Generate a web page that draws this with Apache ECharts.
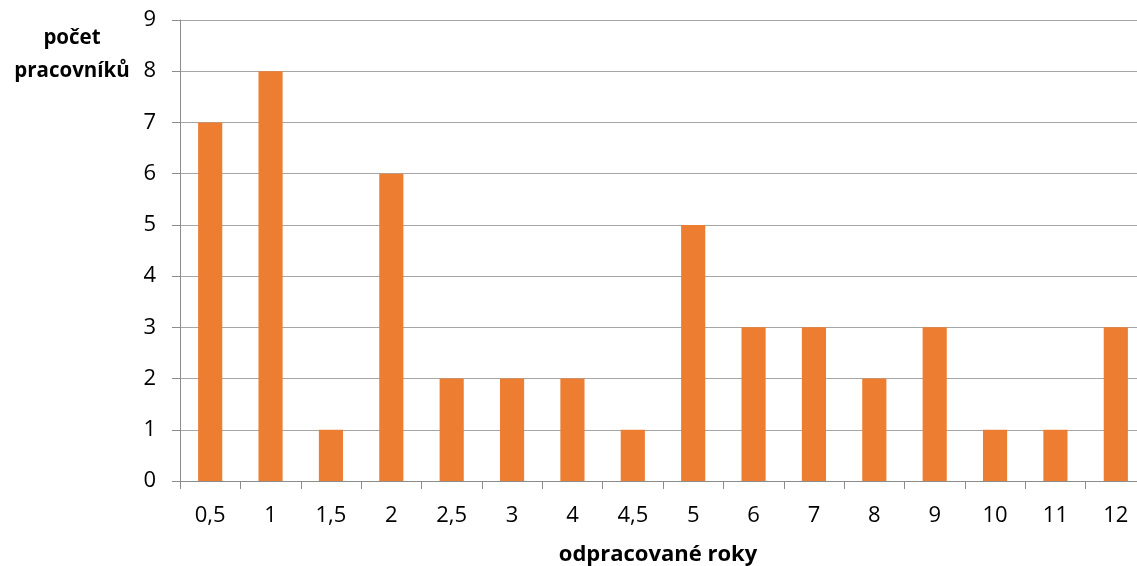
<!DOCTYPE html>
<html>
<head>
<meta charset="utf-8">
<script src="https://cdn.jsdelivr.net/npm/echarts@6/dist/echarts.min.js"></script>
<style>
  html, body { margin: 0; padding: 0; background: #fff; }
  #chart { width: 1137px; height: 566px; }
</style>
</head>
<body>
<div id="chart"></div>
<script>
// Years worked (category) and number of employees per category
const years = ['0,5', '1', '1,5', '2', '2,5', '3', '4', '4,5', '5', '6', '7', '8', '9', '10', '11', '12'];
const employees = [7, 8, 1, 6, 2, 2, 2, 1, 5, 3, 3, 2, 3, 1, 1, 3];
const yTicks = { min: 0, max: 9, interval: 1 };

const FONT = '"Open Sans", "Noto Sans", sans-serif';
const chart = echarts.init(document.getElementById('chart'), null, { renderer: 'canvas' });

chart.setOption({
  animation: false,
  backgroundColor: '#ffffff',
  grid: { left: 180, top: 20, width: 966, height: 461, containLabel: false, outerBoundsMode: 'none' },
  xAxis: {
    type: 'category',
    data: years,
    boundaryGap: true,
    name: 'odpracované roky',
    nameLocation: 'middle',
    nameGap: 63,
    nameTextStyle: { fontFamily: FONT, fontSize: 22, fontWeight: 'bold', color: '#000', padding: [0, 10, 0, 0] },
    axisLine: { lineStyle: { color: '#8c8c8c', width: 1 } },
    axisTick: { show: true, length: 8, alignWithLabel: false, lineStyle: { color: '#8c8c8c' } },
    axisLabel: { fontFamily: FONT, fontSize: 22, color: '#000', margin: 24, interval: 0 },
    splitLine: { show: false }
  },
  yAxis: {
    type: 'value',
    min: yTicks.min,
    max: yTicks.max,
    interval: yTicks.interval,
    axisLine: { show: true, lineStyle: { color: '#8c8c8c', width: 1 } },
    axisTick: { show: true, length: 8, lineStyle: { color: '#8c8c8c' } },
    axisLabel: { fontFamily: FONT, fontSize: 22, color: '#000', margin: 24 },
    splitLine: { show: true, lineStyle: { color: '#a6a6a6', width: 1 } }
  },
  graphic: [{
    type: 'text',
    x: 72,
    y: 22,
    style: {
      text: 'počet\npracovníků',
      fontFamily: FONT,
      fontSize: 20.5,
      fontWeight: 'bold',
      fill: '#000',
      align: 'center',
      verticalAlign: 'top',
      lineHeight: 33
    }
  }],
  series: [{
    type: 'bar',
    data: employees,
    barWidth: '40%',
    itemStyle: { color: '#ED7D31' }
  }]
});
</script>
</body>
</html>
